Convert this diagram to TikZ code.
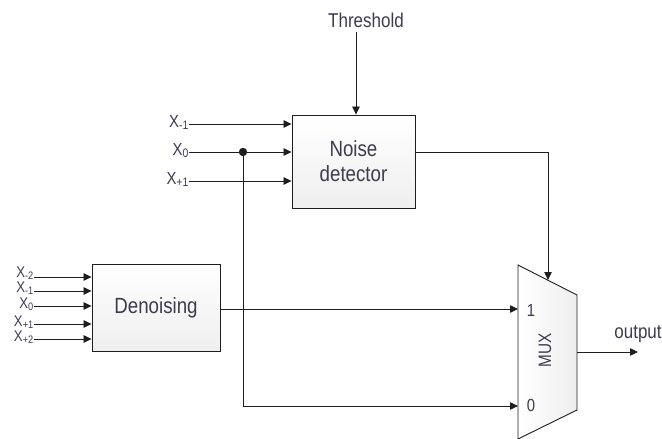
\documentclass[tikz,border=0pt]{standalone}
\usepackage{fontspec}
\setmainfont{Liberation Sans}[FakeStretch=0.85]
\usetikzlibrary{arrows.meta,calc}
\definecolor{txt}{RGB}{60,60,78}
\definecolor{ln}{RGB}{30,30,30}
\begin{document}
\begin{tikzpicture}[x=1pt,y=-1pt,
  blk/.style={draw=ln, line width=0.9pt, top color=white, bottom color=gray!13, text=txt,
    font=\fontsize{22}{25}\selectfont, align=center, inner sep=0pt},
  arr/.style={draw=ln, line width=0.8pt, -{Triangle[length=8pt,width=7.5pt]}},
  lbl/.style={text=txt, font=\fontsize{17.5}{17.5}\selectfont, inner sep=0pt},
  big/.style={text=txt, font=\fontsize{20}{20}\selectfont, inner sep=0pt}]
\useasboundingbox (0,0) rectangle (662,439);

% blocks
\node[blk, minimum width=123pt, minimum height=93pt] (noise) at (353.5,161.5) {Noise\\detector};
\node[blk, minimum width=128pt, minimum height=87pt] (den) at (156,307.5) {Denoising};

% MUX
\coordinate (mtl) at (518,265);
\coordinate (mtr) at (577,295);
\coordinate (mbr) at (577,410);
\coordinate (mbl) at (518,439);
\draw[draw=ln, line width=0.9pt, left color=white, right color=gray!13] (mtl) -- (mtr) -- (mbr) -- (mbl) -- cycle;
\node[text=txt, font=\fontsize{18}{18}\selectfont, rotate=90, inner sep=0pt] (muxl) at (545,350) {MUX};
\node[lbl] (one) at (531,310) {1};
\node[lbl] (zero) at (531,405) {0};
\coordinate (min1) at (518,309);
\coordinate (min0) at (518,406);
\coordinate (msel) at (548,280);
\coordinate (mout) at (577,352);
\coordinate (oend) at (638,352);
\node[big] (out) at (638,334) {output};

% threshold
\node[big] (thr) at (366,20) {Threshold};
\coordinate (t1) at (356,32);
\draw[arr] (t1) -- (t1 |- noise.north);

% noise detector inputs
\node[lbl, anchor=base east] (nx1) at (189,127) {X\textsubscript{-1}};
\node[lbl, anchor=base east] (nx2) at (189,155) {X\textsubscript{0}};
\node[lbl, anchor=base east] (nx3) at (189,184) {X\textsubscript{+1}};
\coordinate (n1) at (189,124);
\coordinate (n2) at (189,152);
\coordinate (n3) at (189,181);
\draw[arr] (n1) -- (n1 -| noise.west);
\draw[arr] (n2) -- (n2 -| noise.west);
\draw[arr] (n3) -- (n3 -| noise.west);

% branch dot
\coordinate (dot) at (243,152);
\fill[ln] (dot) circle (4.2pt);
\draw[arr] (dot) -- (dot |- min0) -- (min0);

% noise detector to mux select
\coordinate (ns) at (noise.east |- 0,152);
\draw[arr] (ns) -| (msel);

% denoising inputs
\foreach \y/\s/\b [count=\i] in {277/-2/0, 291/-1/1, 306/0/2, 324/+1/2, 339/+2/2} {
  \node[lbl, font=\fontsize{15.5}{15.5}\selectfont, anchor=base east] (dl\i) at (34,\y+\b) {X\textsubscript{\s}};
  \coordinate (d\i) at (34,\y);
  \draw[arr] (d\i) -- (d\i -| den.west);
}

% denoising to mux
\coordinate (dout) at (den.east |- min1);
\draw[arr] (dout) -- (min1);

% output
\draw[arr] (mout) -- (oend);
\end{tikzpicture}
\end{document}
